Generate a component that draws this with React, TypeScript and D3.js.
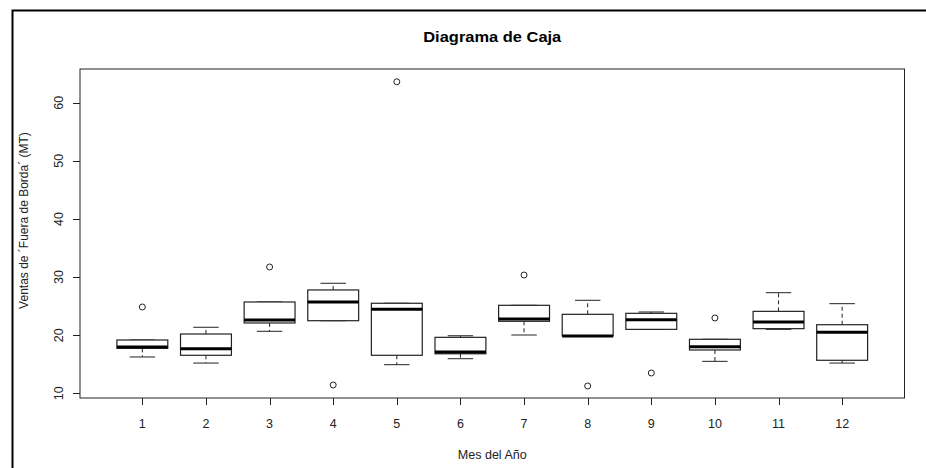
import React from "react";
import * as d3 from "d3";

const months = [1, 2, 3, 4, 5, 6, 7, 8, 9, 10, 11, 12];
const lowerWhisker = [16.25, 15.2, 20.67, 22.49, 14.92, 15.95, 20.03, 19.86, 21.0, 15.5, 21.0, 15.2];
const q1 = [17.74, 16.54, 22.1, 22.49, 16.54, 16.8, 22.39, 19.86, 21.0, 17.45, 21.12, 15.68];
const median = [17.97, 17.67, 22.61, 25.71, 24.45, 17.1, 22.78, 19.86, 22.67, 18.02, 22.27, 20.5];
const q3 = [19.17, 20.2, 25.71, 27.78, 25.49, 19.63, 25.14, 23.59, 23.76, 19.29, 24.1, 21.8];
const upperWhisker = [19.17, 21.36, 25.71, 28.93, 25.49, 19.9, 25.14, 26.0, 23.99, 19.29, 27.31, 25.42];
const outlierMonth = [1, 3, 4, 5, 7, 8, 9, 10];
const outlierValue = [24.85, 31.73, 11.43, 63.6, 30.35, 11.26, 13.49, 22.96];
const yTicks = [10, 20, 30, 40, 50, 60];

const title = "Diagrama de Caja";
const xTitle = "Mes del Año";
const yTitle = "Ventas de ´Fuera de Borda´ (MT)";

export default function App() {
  const W = 926, H = 468;
  const left = 80, right = 904.5, top = 69, bottom = 398;
  const x = d3.scaleLinear().domain([0.02, 12.98]).range([left, right]);
  const y = d3.scaleLinear().domain([9.19, 65.8]).range([bottom, top]);
  const halfBox = (x(1.4) - x(1));
  const halfStaple = halfBox / 2;
  const font = "'Liberation Sans', Arial, sans-serif";

  return (
    <div style={{ position: "absolute", left: 0, top: 0, width: W, height: H, background: "#fff" }}>
      <svg width={W} height={H} style={{ display: "block" }}>
        <rect x={0} y={0} width={W} height={H} fill="#fff" />
        <path d={`M12.5,${H} L12.5,10.5 L${W},10.5`} fill="none" stroke="#000" strokeWidth={2} />
        <text x={(left + right) / 2} y={41.5} textAnchor="middle" fontFamily={font} fontWeight="bold" fontSize={15} textLength={138} lengthAdjust="spacingAndGlyphs">{title}</text>
        <rect x={left} y={top} width={right - left} height={bottom - top} fill="none" stroke="#222" strokeWidth={1} />
        {/* y axis */}
        <line x1={left - 7} x2={left - 7} y1={y(10)} y2={y(60)} stroke="#fff" strokeWidth={0} />
        {yTicks.map((t) => (
          <g key={t}>
            <line x1={left - 7} x2={left} y1={Math.round(y(t)) + 0.5} y2={Math.round(y(t)) + 0.5} stroke="#222" />
            <text transform={`translate(63,${y(t)}) rotate(-90)`} textAnchor="middle" fontFamily={font} fontSize={12.5} fill="#222">{t}</text>
          </g>
        ))}
        <text transform={`translate(28,${(top + bottom) / 2 - 13}) rotate(-90)`} textAnchor="middle" fontFamily={font} fontSize={12} fill="#222">{yTitle}</text>
        {/* x axis */}
        {months.map((m) => (
          <g key={m}>
            <line x1={Math.round(x(m)) + 0.5} x2={Math.round(x(m)) + 0.5} y1={bottom} y2={bottom + 7} stroke="#222" />
            <text x={x(m)} y={428} textAnchor="middle" fontFamily={font} fontSize={12.5} fill="#222">{m}</text>
          </g>
        ))}
        <text x={(left + right) / 2} y={459} textAnchor="middle" fontFamily={font} fontSize={12.5} fill="#222">{xTitle}</text>
        {/* boxes */}
        {months.map((m, i) => {
          const cx = x(m);
          return (
            <g key={m} stroke="#222" fill="none">
              <line x1={cx} x2={cx} y1={y(q3[i])} y2={y(upperWhisker[i])} strokeDasharray="4,3" />
              <line x1={cx} x2={cx} y1={y(q1[i])} y2={y(lowerWhisker[i])} strokeDasharray="4,3" />
              <line x1={cx - halfStaple} x2={cx + halfStaple} y1={y(upperWhisker[i])} y2={y(upperWhisker[i])} />
              <line x1={cx - halfStaple} x2={cx + halfStaple} y1={y(lowerWhisker[i])} y2={y(lowerWhisker[i])} />
              <rect x={cx - halfBox} y={y(q3[i])} width={2 * halfBox} height={Math.max(0.5, y(q1[i]) - y(q3[i]))} fill="#fff" strokeWidth={1.2} />
              <line x1={cx - halfBox} x2={cx + halfBox} y1={y(median[i])} y2={y(median[i])} stroke="#000" strokeWidth={3} />
            </g>
          );
        })}
        {outlierMonth.map((m, i) => (
          <circle key={i} cx={x(m)} cy={y(outlierValue[i])} r={3} fill="none" stroke="#222" strokeWidth={1} />
        ))}
      </svg>
    </div>
  );
}
